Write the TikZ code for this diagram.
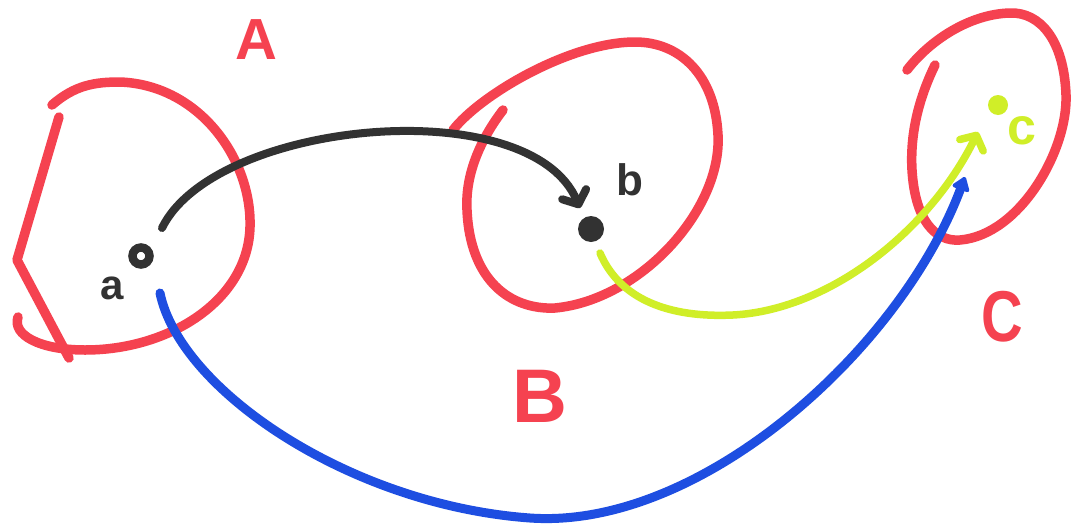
\documentclass[tikz,border=0pt]{standalone}
\usepackage{fontspec}
\setmainfont{Liberation Sans}
\usetikzlibrary{calc,arrows.meta}
\definecolor{penred}{RGB}{245,66,80}
\definecolor{penblack}{RGB}{50,50,50}
\definecolor{penblue}{RGB}{30,78,225}
\definecolor{pengreen}{RGB}{208,238,40}
\tikzset{
  setline/.style={draw=penred,line width=9.5pt,line cap=round,line join=round},
  setlabel/.style={text=penred,inner sep=0pt},
  dotnode/.style={circle,inner sep=0pt,minimum size=20pt},
  ptlabel/.style={inner sep=0pt},
  conn/.style={line width=8pt,line cap=round},
}
\begin{document}
\begin{tikzpicture}[x=1pt,y=-1pt]
\path[use as bounding box,fill=white] (0,0) rectangle (1074,528);
% set A
\path[setline] (52,105) .. controls (75,85) and (95,82) .. (120,82)
  .. controls (200,85) and (252,160) .. (250,227)
  .. controls (248,300) and (170,350) .. (85,350)
  .. controls (40,350) and (12,335) .. (18,317);
\path[setline] (59,117) -- (17,260) -- (69,358);
% set B
\path[setline] (503,110) .. controls (480,140) and (465,175) .. (467,210)
  .. controls (470,280) and (510,310) .. (555,308)
  .. controls (640,300) and (722,210) .. (718,135)
  .. controls (715,75) and (680,42) .. (635,42)
  .. controls (570,42) and (480,95) .. (453,130);
% set C
\path[setline] (935,65) .. controls (918,100) and (910,135) .. (912,170)
  .. controls (915,220) and (935,242) .. (960,240)
  .. controls (1020,235) and (1068,150) .. (1066,95)
  .. controls (1064,40) and (1040,12) .. (1010,13)
  .. controls (970,14) and (930,40) .. (907,70);
% set labels
\node[setlabel,font=\bfseries\fontsize{58}{58}\selectfont] (labelA) at (256,40) {A};
\node[setlabel,font=\bfseries\fontsize{76}{76}\selectfont] (labelB) at (540,396) {B};
\node[setlabel,font=\bfseries\fontsize{72}{72}\selectfont,xscale=0.8] (labelC) at (1002,317) {C};
% points
\node[dotnode,draw=penblack,line width=8.5pt,minimum size=17pt] (a) at (141,256) {};
\node[dotnode,fill=penblack,minimum size=26pt] (b) at (591,229) {};
\node[dotnode,fill=pengreen,minimum size=20pt] (c) at (998,105) {};
\node[ptlabel,text=penblack,font=\bfseries\fontsize{42}{42}\selectfont] (la) at (112,288) {a};
\node[ptlabel,text=penblack,font=\bfseries\fontsize{44}{44}\selectfont] (lb) at (630,180) {b};
\node[ptlabel,text=pengreen,font=\bfseries\fontsize{52}{52}\selectfont] (lc) at (1022,131) {c};
% connectors
\draw[conn,penblack,-{Straight Barb[length=11pt,width=26pt,round]}]
  ($(a)+(21,-28)$) .. controls (215,120) and (530,90) .. ($(b)+(-11,-21)$);
\draw[conn,pengreen,line width=7.5pt,-{Straight Barb[length=11pt,width=26pt,round]}]
  ($(b)+(9,24)$) .. controls (620,300) and (670,318) .. (733,315)
  .. controls (830,310) and (930,230) .. ($(c)+(-20,27)$);
\draw[conn,penblue,line width=9pt,-{Triangle[length=15pt,width=20pt,round]}]
  ($(a)+(19,37)$) .. controls (180,390) and (350,505) .. (530,518)
  .. controls (700,530) and (900,350) .. ($(c)+(-33,72)$);
\end{tikzpicture}
\end{document}
